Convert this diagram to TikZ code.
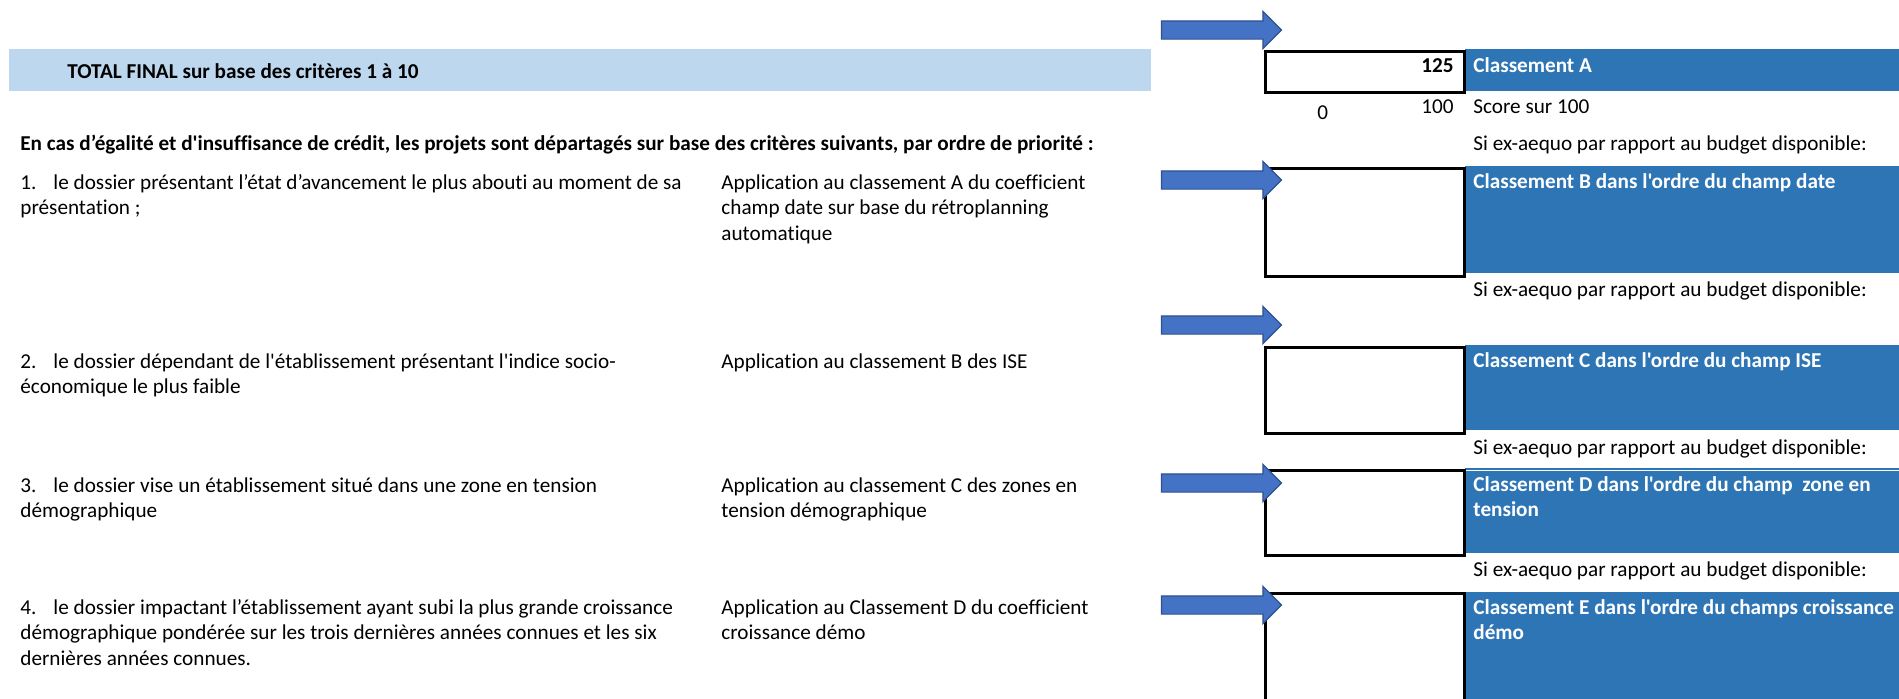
\documentclass[tikz,border=0pt]{standalone}
\usepackage{fontspec}
\newfontfamily\calibri{Carlito}[Ligatures=NoCommon]
\usetikzlibrary{shapes,arrows,positioning}
\definecolor{bandblue}{HTML}{BDD7EE}
\definecolor{barblue}{HTML}{2E75B6}
\definecolor{arrowfill}{HTML}{4472C4}
\definecolor{arrowline}{HTML}{2F528F}
\newcommand{\cellfont}{\calibri\fontsize{10.6}{12.75}\selectfont}
\newcommand{\lines}[1]{\parbox[t]{500pt}{\cellfont #1}}

\begin{document}
\begin{tikzpicture}[x=0.5pt, y=-0.5pt,
                   txt/.style={anchor=base west, inner sep=0pt, font=\cellfont},
                   bartxt/.style={txt, text=white, font=\cellfont\bfseries},
                   bar/.style={anchor=north west, inner sep=0pt, fill=barblue, minimum width=220pt},
                   scorebox/.style={anchor=north west, inner sep=0pt, draw=black, line width=1.3pt, minimum width=99.5pt},
                   blockarrow/.style={single arrow, draw=arrowline, fill=arrowfill, line width=0.6pt,
                                      minimum height=60pt, minimum width=18pt, inner xsep=0pt, inner ysep=4.25pt,
                                      single arrow head extend=4.75pt, single arrow tip angle=90}]
          \useasboundingbox (0,0) rectangle (1899,698);
          % bandeau du total
          \node[anchor=north west, inner sep=0pt, fill=bandblue, minimum width=571pt, minimum height=21pt] (band) at (9,49) {};
          \node[txt, font=\cellfont\bfseries] (total) at (67,78) {TOTAL FINAL sur base des critères 1 à 10};
          \node[txt, font=\cellfont\bfseries] (intro) at (20,150) {En cas d’égalité et d'insuffisance de crédit, les projets sont départagés sur base des critères suivants, par ordre de priorité :};
          % barres bleues
          \node[bar, minimum height=21pt] (barA) at (1465,49) {};
          \node[bar, minimum height=53.5pt] (barB) at (1465,166) {};
          \node[bar, minimum height=42.5pt] (barC) at (1465,345) {};
          \node[bar, minimum height=42.5pt] (barD) at (1465,468) {};
          \node[bar, minimum height=59pt] (barE) at (1465,592) {};
          \draw[white, line width=0.6pt] ([yshift=-1.2pt]barD.north west) -- ([yshift=-1.2pt]barD.north east);
          % cases
          \node[scorebox, minimum height=20.5pt] (boxA) at (1264,50) {};
          \node[scorebox, minimum height=54pt] (boxB) at (1264,167) {};
          \node[scorebox, minimum height=43pt] (boxC) at (1264,346) {};
          \node[scorebox, minimum height=42.5pt] (boxD) at (1264,469) {};
          \node[scorebox, minimum height=60pt] (boxE) at (1264,592) {};
          % fleches
          \node[blockarrow] (arrA) at (1217,30) {};
          \node[blockarrow] (arrB) at (1217,180) {};
          \node[blockarrow] (arrC) at (1217,325) {};
          \node[blockarrow] (arrD) at (1217,483) {};
          \node[blockarrow] (arrE) at (1217,605) {};
          % classement A
          \node[txt, anchor=base east, font=\cellfont\bfseries] (score) at (1454,72) {125};
          \node[bartxt] (clA) at (1473,72) {Classement A};
          \node[txt] (zero) at (1317,119) {0};
          \node[txt, anchor=base east] (cent) at (1454,113) {100};
          \node[txt] (sur) at (1473,113) {Score sur 100};
          \node[txt] (siA) at (1473,150) {Si ex-aequo par rapport au budget disponible:};
          % critere 1
          \node[txt] (crit1) at (20,189) {\lines{1.\hspace{8.5pt}le dossier présentant l’état d’avancement le plus abouti au moment de sa\\présentation ;}};
          \node[txt] (app1) at (721,189) {\lines{Application au classement A du coefficient\\champ date sur base du rétroplanning\\automatique}};
          \node[bartxt] (clB) at (1473,188) {Classement B dans l'ordre du champ date};
          \node[txt] (siB) at (1473,296) {Si ex-aequo par rapport au budget disponible:};
          % critere 2
          \node[txt] (crit2) at (20,368) {\lines{2.\hspace{8.5pt}le dossier dépendant de l'établissement présentant l'indice socio-\\économique le plus faible}};
          \node[txt] (app2) at (721,368) {Application au classement B des ISE};
          \node[bartxt] (clC) at (1473,367) {Classement C dans l'ordre du champ ISE};
          \node[txt] (siC) at (1473,454) {Si ex-aequo par rapport au budget disponible:};
          % critere 3
          \node[txt] (crit3) at (20,492) {\lines{3.\hspace{8.5pt}le dossier vise un établissement situé dans une zone en tension\\démographique}};
          \node[txt] (app3) at (721,492) {\lines{Application au classement C des zones en\\tension démographique}};
          \node[bartxt] (clD) at (1473,491) {\lines{\bfseries Classement D dans l'ordre du champ \ zone en\\tension}};
          \node[txt] (siD) at (1473,576) {Si ex-aequo par rapport au budget disponible:};
          % critere 4
          \node[txt] (crit4) at (20,614) {\lines{4.\hspace{8.5pt}le dossier impactant l’établissement ayant subi la plus grande croissance\\démographique pondérée sur les trois dernières années connues et les six\\dernières années connues.}};
          \node[txt] (app4) at (721,614) {\lines{Application au Classement D du coefficient\\croissance démo}};
          \node[bartxt] (clE) at (1473,614) {\lines{\bfseries Classement E dans l'ordre du champs croissance\\démo}};
        \end{tikzpicture}
\end{document}
